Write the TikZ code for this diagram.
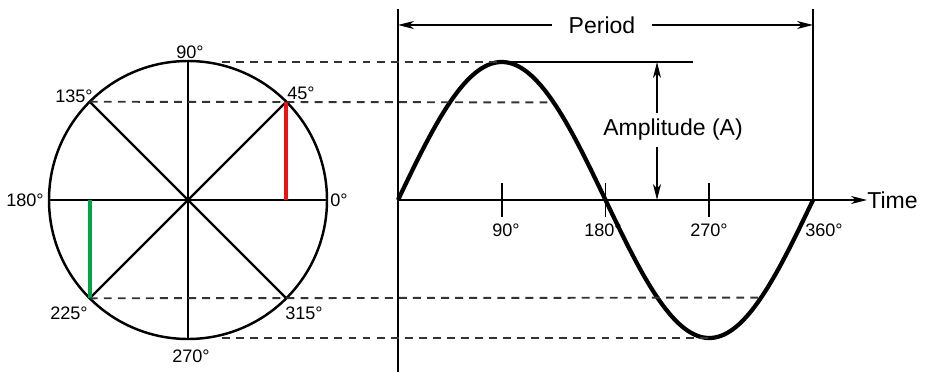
\documentclass[tikz,border=0pt]{standalone}
\usepackage{fontspec}
\setmainfont{Liberation Sans}
\usepackage{xcolor}
\usetikzlibrary{arrows.meta,calc}

\definecolor{sinred}{RGB}{235,20,20}
\definecolor{cosgreen}{RGB}{0,165,75}

\begin{document}
\begin{tikzpicture}[
  x=0.02cm, y=0.02cm,
  font=\fontsize{13.1}{15}\selectfont,
  deg/.style={font=\fontsize{10.3}{12}\selectfont, inner sep=0pt},
  spoke/.style={line width=1.4pt},
  guide/.style={dash pattern=on 4.5pt off 3.5pt, line width=1.1pt, black!80},
  wave/.style={line width=2.4pt, line join=round},
  proj/.style={line width=2.2pt},
  dim/.style={-{Stealth[length=9pt, width=4.5pt, inset=2.5pt]}, line width=0.9pt}
]
  \useasboundingbox (0,0) rectangle (925,372);

  % phasor circle
  \coordinate (o) at (188,172);
  \foreach \a in {0,45,...,315} \coordinate (p\a) at ($(o)+(\a:139)$);
  \draw[spoke] (o) circle (139);
  \draw[spoke] (p0) -- (p180);
  \draw[spoke] (p90) -- (p270);
  \draw[spoke] (p45) -- (p225);
  \draw[spoke] (p135) -- (p315);
  \draw[proj, sinred] (p45) -- (p45 |- o);
  \draw[proj, cosgreen] (p225) -- (p225 |- o);

  \node[deg] (l0) at (339,172) {0°};
  \node[deg] (l45) at (301,279) {45°};
  \node[deg] (l90) at (190,320) {90°};
  \node[deg] (l135) at (74,276) {135°};
  \node[deg] (l180) at (25,172) {180°};
  \node[deg] (l225) at (69,59) {225°};
  \node[deg] (l270) at (191,16) {270°};
  \node[deg] (l315) at (304,59) {315°};

  % waveform
  \foreach \a in {0,90,135,180,270,315,360}
    \coordinate (s\a) at ({398+\a/360*415},{172+138*sin(\a)});
  \coordinate (top0) at (398,363);
  \coordinate (bot0) at (398,0);
  \coordinate (top360) at (813,363);
  \draw[spoke] (top0) -- (bot0);
  \draw[spoke] (top360) -- (s360);
  \draw[wave] plot[domain=0:360, samples=91, smooth] ({398+\x/360*415},{172+138*sin(\x)});

  \node[inner sep=0pt, anchor=west] (time) at (867,172) {Time};
  \draw[dim] (s0) -- (time.west);
  \foreach \a in {90,180,270}
    \draw[line width=1pt] ($(s\a |- o)+(0,17)$) -- ($(s\a |- o)+(0,-17)$);
  \node[deg] (t90) at (506,142) {90°};
  \node[deg] (t180) at (603,142) {180°};
  \node[deg] (t270) at (709,142) {270°};
  \node[deg] (t360) at (824,142) {360°};

  % projections
  \coordinate (d90) at (222,310);
  \coordinate (d270) at (222,34);
  \draw[guide] (d90) -- (s90);
  \draw[guide] (p135) -- (s135);
  \draw[guide] (p225) -- (s315);
  \draw[guide] (d270) -- (s270);

  % period and amplitude
  \node[inner xsep=0.32cm, inner ysep=0pt] (per) at (602,347) {Period};
  \draw[dim] (per.west) -- (per.west -| s0);
  \draw[dim] (per.east) -- (per.east -| s360);

  \coordinate (aend) at (693,310);
  \coordinate (a) at (657,172);
  \draw[line width=1pt] (s90) -- (aend);
  \node[inner xsep=0pt, inner ysep=0.12cm] (amp) at (673,242) {Amplitude (A)};
  \draw[dim] (amp.north -| a) -- (a |- s90);
  \draw[dim] (amp.south -| a) -- (a);
\end{tikzpicture}
\end{document}
